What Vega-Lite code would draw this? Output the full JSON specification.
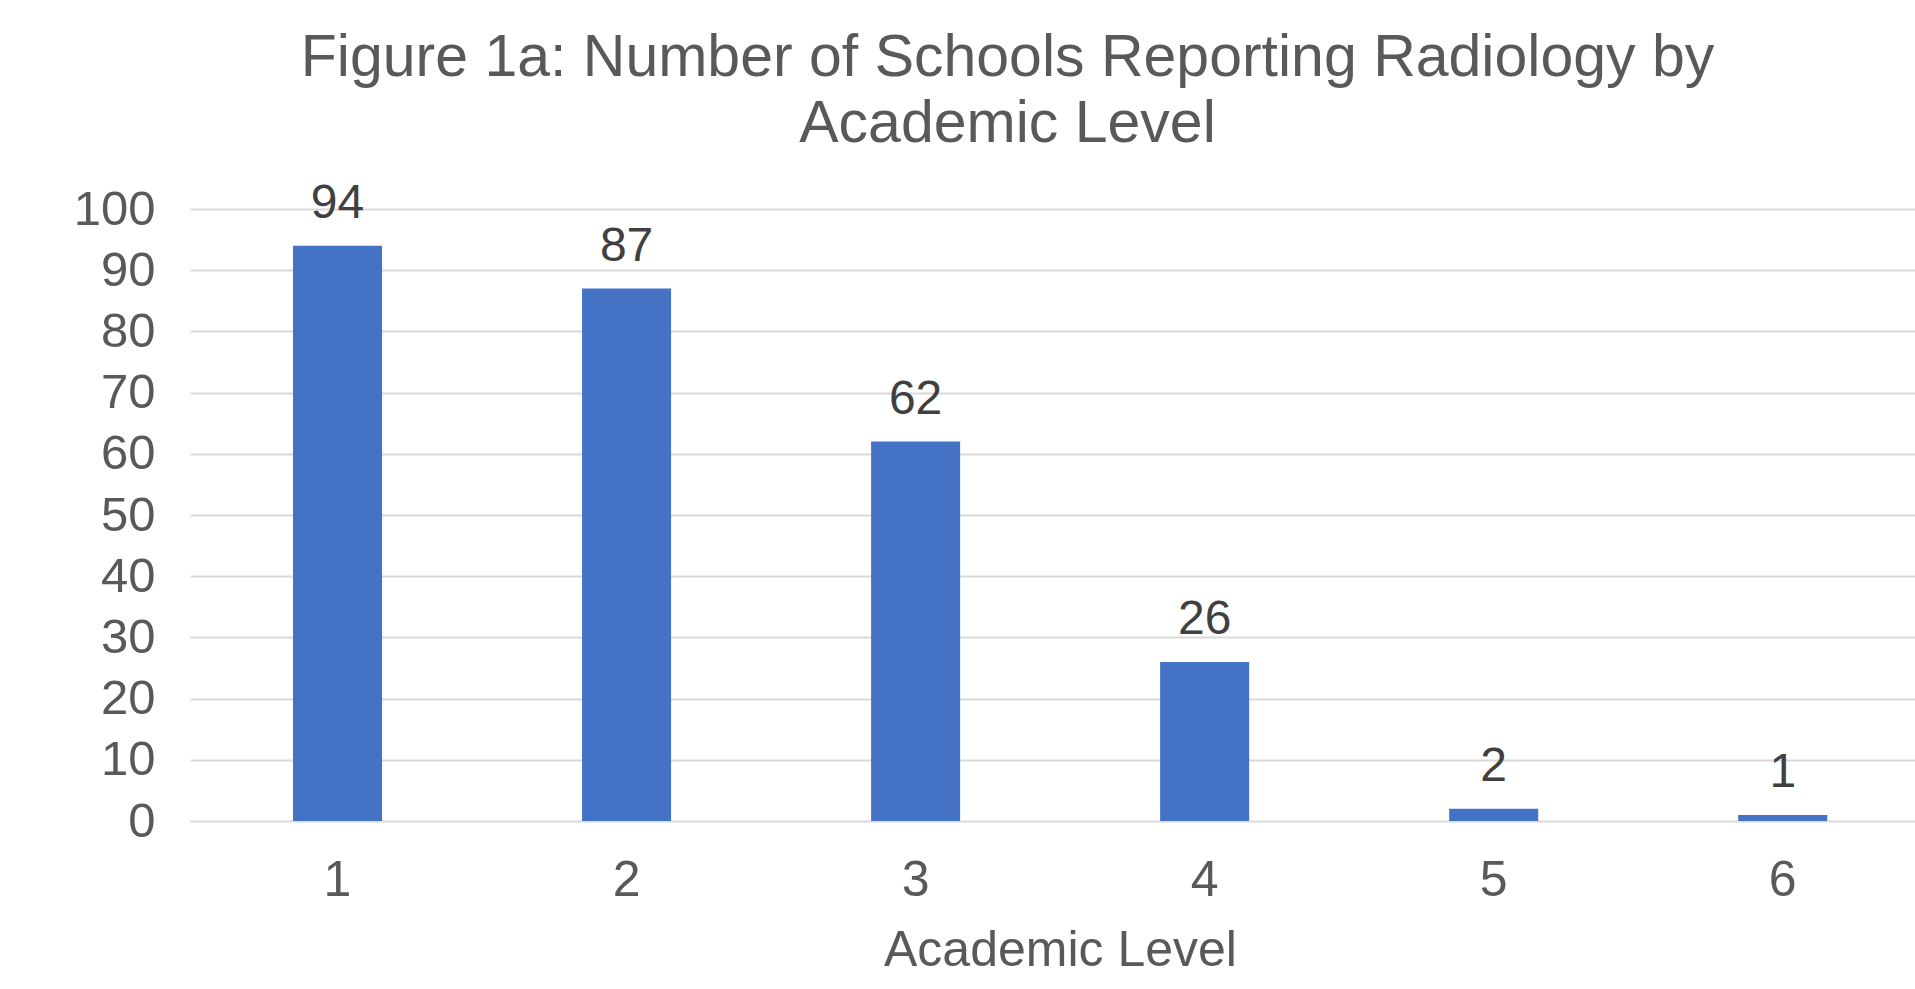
{
  "$schema": "https://vega.github.io/schema/vega-lite/v6.json",
  "autosize": {"type": "none"},
  "width": 1725,
  "height": 612,
  "padding": {"left": 190, "top": 209, "right": 0, "bottom": 168},
  "background": "white",
  "title": {
    "text": ["Figure 1a: Number of Schools Reporting Radiology by", "Academic Level"],
    "fontSize": 59,
    "lineHeight": 66,
    "font": "Liberation Sans",
    "fontWeight": "normal",
    "color": "#595959",
    "anchor": "middle",
    "dx": -45,
    "offset": 26
  },
  "data": {
    "values": [
      {"level": "1", "count": 94},
      {"level": "2", "count": 87},
      {"level": "3", "count": 62},
      {"level": "4", "count": 26},
      {"level": "5", "count": 2},
      {"level": "6", "count": 1}
    ]
  },
  "config": {
    "view": {"stroke": null},
    "font": "Liberation Sans"
  },
  "encoding": {
    "x": {
      "field": "level",
      "type": "ordinal",
      "title": "Academic Level",
      "scale": {"paddingInner": 0.692, "paddingOuter": 0.33, "align": 0.54},
      "axis": {
        "labelAngle": 0,
        "labelFontSize": 50,
        "labelColor": "#595959",
        "labelPadding": 34,
        "ticks": false,
        "tickSize": 0,
        "domain": false,
        "titleFontSize": 50,
        "titleFontWeight": "normal",
        "titleColor": "#595959",
        "titlePadding": 20,
        "titleX": 870
      }
    },
    "y": {
      "field": "count",
      "type": "quantitative",
      "title": null,
      "scale": {"domain": [0, 100], "nice": false},
      "axis": {
        "values": [0, 10, 20, 30, 40, 50, 60, 70, 80, 90, 100],
        "labelFontSize": 49,
        "labelColor": "#595959",
        "labelPadding": 35,
        "ticks": false,
        "tickSize": 0,
        "domain": false,
        "gridColor": "#d9d9d9",
        "gridWidth": 2
      }
    }
  },
  "layer": [
    {"mark": {"type": "bar", "color": "#4472C4"}},
    {
      "mark": {"type": "text", "fontSize": 48, "color": "#404040", "baseline": "alphabetic", "dy": -28},
      "encoding": {"text": {"field": "count", "type": "quantitative"}}
    }
  ]
}
